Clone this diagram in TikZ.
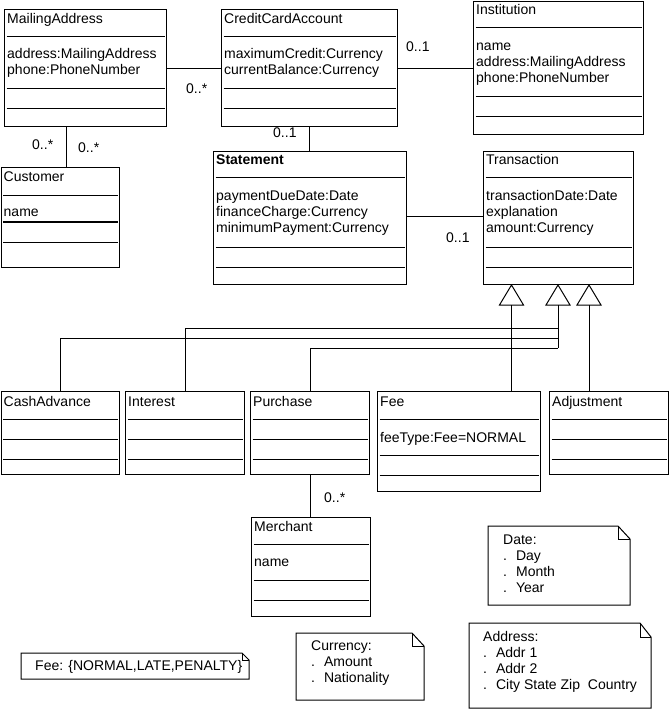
\documentclass[tikz,border=0pt]{standalone}
\usepackage{fontspec}
\setmainfont{Liberation Sans}
\usetikzlibrary{calc}
\tikzset{
  x=1pt, y=-1pt,
  cls/.style={draw, line width=1pt, anchor=north west, inner sep=0pt, fill=white},
  txt/.style={anchor=base west, inner sep=0pt, font=\fontsize{14}{16}\selectfont},
  sepline/.style={line width=1pt},
  conn/.style={line width=1pt},
  gentri/.style={draw, line width=1pt, fill=white},
  notebox/.style={line width=1pt},
}
\newcommand\mkclass[5]{\node[cls, minimum width=#4pt, minimum height=#5pt] (#1) at (#2,#3) {};}
\newcommand\sepat[2]{\draw[sepline] ($(#1.north west)+(2.5,#2)$) -- ($(#1.north east)+(-2.5,#2)$);}
\newcommand\txtat[4]{\node[txt] (#1-#4) at ($(#1.north west)+(3,#2)$) {#3};}
\begin{document}
\begin{tikzpicture}
\useasboundingbox (0,0) rectangle (670,711);
% ---------- classes ----------
\mkclass{ma}{4}{9}{162}{117}
\sepat{ma}{28}\sepat{ma}{80}\sepat{ma}{100}
\txtat{ma}{15}{MailingAddress}{t}
\txtat{ma}{50}{address:MailingAddress}{a}
\txtat{ma}{66}{phone:PhoneNumber}{b}

\mkclass{cca}{221}{9}{176}{117}
\sepat{cca}{28}\sepat{cca}{80}\sepat{cca}{100}
\txtat{cca}{15}{CreditCardAccount}{t}
\txtat{cca}{50}{maximumCredit:Currency}{a}
\txtat{cca}{66}{currentBalance:Currency}{b}

\mkclass{inst}{473}{1}{170}{133}
\sepat{inst}{27}\sepat{inst}{96}\sepat{inst}{116}
\txtat{inst}{14}{Institution}{t}
\txtat{inst}{50}{name}{a}
\txtat{inst}{66}{address:MailingAddress}{b}
\txtat{inst}{82}{phone:PhoneNumber}{c}

\mkclass{stmt}{213}{151}{193}{133}
\sepat{stmt}{27}\sepat{stmt}{96}\sepat{stmt}{116}
\txtat{stmt}{14}{\bfseries Statement}{t}
\txtat{stmt}{50}{paymentDueDate:Date}{a}
\txtat{stmt}{66}{financeCharge:Currency}{b}
\txtat{stmt}{82}{minimumPayment:Currency}{c}

\mkclass{trans}{483}{151}{150}{133}
\sepat{trans}{27}\sepat{trans}{96}\sepat{trans}{116}
\txtat{trans}{14}{Transaction}{t}
\txtat{trans}{50}{transactionDate:Date}{a}
\txtat{trans}{66}{explanation}{b}
\txtat{trans}{82}{amount:Currency}{c}

\mkclass{cust}{0.5}{167}{118.5}{100}
\sepat{cust}{29}\sepat{cust}{55}\sepat{cust}{75}
\txtat{cust}{15}{Customer}{t}
\txtat{cust}{50}{name}{a}

\mkclass{cash}{0.5}{391}{118.5}{83}
\sepat{cash}{28}\sepat{cash}{48}\sepat{cash}{68}
\txtat{cash}{15}{CashAdvance}{t}

\mkclass{intr}{125}{391}{119}{83}
\sepat{intr}{28}\sepat{intr}{48}\sepat{intr}{68}
\txtat{intr}{15}{Interest}{t}

\mkclass{purch}{250}{391}{119}{83}
\sepat{purch}{28}\sepat{purch}{48}\sepat{purch}{68}
\txtat{purch}{15}{Purchase}{t}

\mkclass{fee}{377}{391}{163}{100}
\sepat{fee}{28}\sepat{fee}{64}\sepat{fee}{84}
\txtat{fee}{15}{Fee}{t}
\txtat{fee}{51}{feeType:Fee=NORMAL}{a}

\mkclass{adj}{549}{391}{119}{83}
\sepat{adj}{28}\sepat{adj}{48}\sepat{adj}{68}
\txtat{adj}{15}{Adjustment}{t}

\mkclass{merch}{251}{517}{119}{99}
\sepat{merch}{27}\sepat{merch}{63}\sepat{merch}{83}
\txtat{merch}{14}{Merchant}{t}
\txtat{merch}{49}{name}{a}

% ---------- associations ----------
\coordinate (yA) at (0,69);
\draw[conn] (ma.east |- yA) -- (cca.west |- yA);
\draw[conn] (cca.east |- yA) -- (inst.west |- yA);
\coordinate (xB) at (309,0);
\draw[conn] (cca.south -| xB) -- (stmt.north -| xB);
\coordinate (yC) at (0,217);
\draw[conn] (stmt.east |- yC) -- (trans.west |- yC);
\coordinate (xD) at (66,0);
\draw[conn] (ma.south -| xD) -- (cust.north -| xD);
\coordinate (xE) at (310,0);
\draw[conn] (purch.south -| xE) -- (merch.north -| xE);

\node[txt] (l1) at (186,94) {0..*};
\node[txt] (l2) at (406,52) {0..1};
\node[txt] (l3) at (273,138) {0..1};
\node[txt] (l4) at (446,242) {0..1};
\node[txt] (l5) at (32,150) {0..*};
\node[txt] (l6) at (78,153) {0..*};
\node[txt] (l7) at (324,502) {0..*};

% ---------- generalizations ----------
\coordinate (g1) at (511.5,285);
\coordinate (g2) at (558,285);
\coordinate (g3) at (589,285);
\foreach \g in {g1,g2,g3}{
  \draw[gentri] (\g) -- ++(12,20) -- ++(-24,0) -- cycle;
}
\coordinate (g2b) at (558,305);
\coordinate (h1) at (0,328);
\coordinate (h2) at (0,338);
\coordinate (h3) at (0,348);
\draw[conn] ($(g1)+(0,20)$) -- (fee.north -| g1);
\draw[conn] ($(g3)+(0,20)$) -- (adj.north -| g3);
\draw[conn] (g2b) -- (g2b |- h3);
\coordinate (xI) at (185,0);
\coordinate (xCa) at (60,0);
\draw[conn] (intr.north -| xI) -- (xI |- h1) -- (g2b |- h1);
\draw[conn] (cash.north -| xCa) -- (xCa |- h2) -- (g2b |- h2);
\draw[conn] (purch.north -| xE) -- (xE |- h3) -- (g2b |- h3);

% ---------- notes ----------
% Date
\draw[notebox] (488,526) -- (618,526) -- (630,539) -- (630,605) -- (488,605) -- cycle;
\draw[notebox] (618,526) -- (618,539) -- (630,539);
\node[txt] (d0) at (503,544) {Date:};
\node[txt] (d1) at (503,560) {.\hspace{9pt}Day};
\node[txt] (d2) at (503,576) {.\hspace{9pt}Month};
\node[txt] (d3) at (503,592) {.\hspace{9pt}Year};
% Address
\draw[notebox] (469,623) -- (640,623) -- (651,637) -- (651,708) -- (469,708) -- cycle;
\draw[notebox] (640,623) -- (640,637) -- (651,637);
\node[txt] (a0) at (483,641) {Address:};
\node[txt] (a1) at (483,657) {.\hspace{9pt}Addr 1};
\node[txt] (a2) at (483,673) {.\hspace{9pt}Addr 2};
\node[txt] (a3) at (483,689) {.\hspace{9pt}City State Zip\ \ Country};
% Currency
\draw[notebox] (296,633) -- (412,633) -- (424,646) -- (424,700) -- (296,700) -- cycle;
\draw[notebox] (412,633) -- (412,646) -- (424,646);
\node[txt] (c0) at (311,650) {Currency:};
\node[txt] (c1) at (311,666) {.\hspace{9pt}Amount};
\node[txt] (c2) at (311,682) {.\hspace{9pt}Nationality};
% Fee enum
\draw[notebox] (21,653) -- (242,653) -- (249,660) -- (249,679) -- (21,679) -- cycle;
\draw[notebox] (242,653) -- (242,660) -- (249,660);
\node[txt] (f0) at (35,670) {Fee: \{NORMAL,LATE,PENALTY\}};
\end{tikzpicture}
\end{document}
